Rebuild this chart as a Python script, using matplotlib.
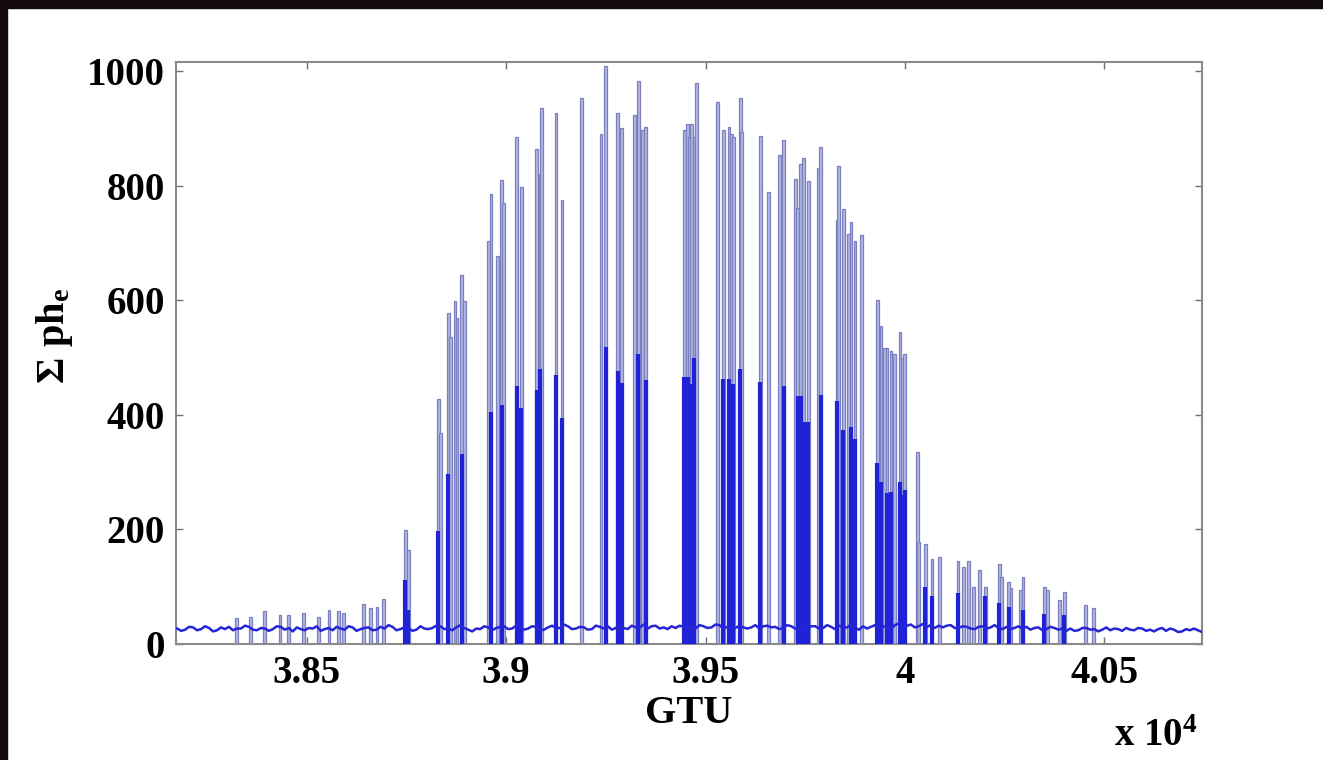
import numpy as np
import matplotlib
matplotlib.use("Agg")
import matplotlib.pyplot as plt
from matplotlib.patches import Rectangle

plt.rcParams['font.family'] = ['Liberation Serif', 'DejaVu Serif']
plt.rcParams['font.weight'] = 'bold'
plt.rcParams['mathtext.fontset'] = 'custom'
plt.rcParams['mathtext.rm'] = 'Liberation Serif:bold'
plt.rcParams['mathtext.it'] = 'Liberation Serif:bold'
plt.rcParams['mathtext.bf'] = 'Liberation Serif:bold'

# spikes: position (GTU), tall peak, dense core
spike_gtu = [38323, 38358, 38395, 38433, 38454, 38492, 38529, 38556, 38579, 38592,
             38642, 38659, 38676, 38692, 38747, 38755,
             38830, 38836, 38855, 38860, 38872, 38877, 38889, 38895,
             38955, 38962, 38978, 38989, 38994, 39027, 39038,
             39077, 39085, 39089, 39125, 39140, 39190, 39238, 39250,
             39280, 39290, 39321, 39331, 39342, 39350,
             39447, 39455, 39460, 39464, 39471, 39478, 39531, 39545,
             39559, 39566, 39570, 39587, 39591, 39637, 39658, 39686, 39696,
             39725, 39731, 39739, 39746, 39758, 39783, 39789,
             39830, 39834, 39846, 39858, 39865, 39875, 39892,
             39931, 39940, 39949, 39955, 39965, 39973, 39988, 39995, 40000,
             40032, 40034, 40051, 40068, 40087, 40133, 40147, 40160, 40173,
             40187, 40202, 40237, 40242, 40260, 40266, 40289, 40296,
             40350, 40358, 40388, 40400, 40452, 40473]
spike_top = [45, 48, 57, 51, 51, 54, 48, 60, 57, 54,
             70, 62, 65, 78, 199, 164,
             427, 368, 577, 535, 598, 568, 644, 598,
             703, 785, 677, 809, 769, 884, 798,
             864, 821, 936, 926, 775, 953, 890, 1008,
             926, 900, 923, 982, 897, 903,
             897, 907, 884, 907, 884, 979, 946, 897,
             903, 890, 884, 953, 893, 887, 788, 854, 880,
             811, 760, 838, 848, 808, 831, 867,
             739, 834, 759, 716, 736, 703, 713,
             601, 555, 516, 516, 512, 506, 545, 499, 506,
             335, 178, 175, 149, 152, 144, 135, 144, 100,
             129, 100, 140, 117, 109, 97, 94, 117,
             100, 94, 77, 91, 68, 62]
spike_core = [0, 0, 0, 0, 0, 0, 0, 0, 0, 0,
              0, 0, 0, 0, 112, 60,
              197, 0, 296, 0, 0, 0, 332, 0,
              0, 404, 0, 417, 0, 450, 411,
              443, 480, 0, 470, 394, 0, 0, 519,
              476, 456, 0, 506, 0, 460,
              466, 466, 0, 453, 499, 0, 0, 463,
              463, 0, 453, 480, 0, 457, 0, 0, 450,
              0, 433, 433, 388, 388, 0, 434,
              424, 0, 374, 0, 378, 358, 0,
              315, 282, 0, 263, 266, 0, 282, 260, 269,
              0, 0, 100, 83, 0, 89, 0, 0, 0,
              0, 83, 71, 0, 65, 0, 0, 59,
              53, 0, 0, 50, 0, 0]

# background count, sampled every 10 GTU from 38175
base_start = 38175
base_vals = [27, 23, 25, 30, 29, 24, 26, 31, 28, 22, 24, 29, 26, 30, 24, 27,
             27, 32, 30, 25, 24, 28, 27, 23, 26, 31, 30, 25, 28, 22, 29, 26,
             24, 28, 27, 31, 23, 26, 28, 24, 30, 27, 25, 31, 29, 23, 26, 28,
             29, 24, 25, 30, 27, 33, 30, 24, 26, 29, 28, 23, 25, 31, 27, 26,
             28, 32, 31, 26, 27, 24, 29, 33, 28, 25, 22, 27, 26, 31, 29, 24,
             28, 30, 31, 26, 27, 32, 29, 25, 27, 31, 30, 24, 25, 29, 32, 28,
             28, 34, 31, 26, 27, 30, 29, 25, 26, 32, 30, 27, 31, 25, 28, 33,
             28, 26, 32, 29, 29, 34, 27, 31, 32, 27, 29, 26, 31, 28, 32, 30,
             30, 26, 27, 33, 31, 28, 29, 34, 33, 27, 30, 26, 28, 32, 29, 27,
             29, 33, 27, 31, 32, 29, 30, 26, 28, 33, 31, 27, 27, 32, 29, 31,
             31, 27, 28, 33, 30, 26, 32, 29, 29, 34, 28, 25, 31, 27, 30, 33,
             27, 31, 29, 26, 33, 36, 30, 32, 34, 29, 31, 35, 30, 33, 28, 32,
             29, 32, 33, 28, 28, 31, 30, 27, 26, 30, 31, 27, 29, 33, 28, 26,
             30, 26, 28, 31, 27, 30, 25, 28, 29, 24, 26, 30, 28, 25, 27, 23,
             27, 23, 24, 28, 28, 25, 26, 22, 25, 29, 24, 27, 26, 23, 28, 25,
             24, 28, 27, 23, 25, 22, 26, 28, 23, 27, 25, 21, 22, 26, 24, 27,
             24, 21]
base_gtu = base_start + 10 * np.arange(len(base_vals))

xticks = [38500, 39000, 39500, 40000, 40500]
xticklabels = ['3.85', '3.9', '3.95', '4', '4.05']
yticks = [0, 200, 400, 600, 800, 1000]

fig = plt.figure(figsize=(13.23, 7.6), dpi=100)
fig.patch.set_facecolor('white')
# dark frame strips at top and left edge
fig.patches.append(Rectangle((0, 0.99), 1, 0.01, transform=fig.transFigure,
                             color='#120a0e', zorder=0))
fig.patches.append(Rectangle((0, 0), 0.005, 1, transform=fig.transFigure,
                             color='#120a0e', zorder=0))

ax = fig.add_axes([0.133, 0.1526, 0.7755, 0.7654])
ax.bar(spike_gtu, spike_top, width=7, color='#b4b7e0', edgecolor='#7b80c0',
       linewidth=0.9, zorder=2)
ax.vlines(spike_gtu, 0, spike_core, color='#1f22d6', linewidth=3.0, zorder=3)
ax.plot(base_gtu, base_vals, color='#2626d8', linewidth=1.8, zorder=4)

ax.set_xlim(38172, 40745)
ax.set_ylim(0, 1015)
ax.set_xticks(xticks)
ax.set_xticklabels(xticklabels)
ax.set_yticks(yticks)
ax.tick_params(direction='in', length=5, width=1, color='#707070',
               labelsize=28, top=True, right=True, pad=8)
for s in ax.spines.values():
    s.set_color('#8a8a8a')
    s.set_linewidth(1.5)

ax.set_xlabel('GTU', fontsize=29, fontweight='bold', labelpad=2)
ax.set_ylabel(r'$\Sigma\ ph_e$', fontsize=29, labelpad=12)
ax.yaxis.set_label_coords(-0.098, 0.53)
fig.text(0.842, 0.018, r'x 10$^4$', fontsize=28, fontweight='bold')

fig.savefig('out.png', dpi=100, facecolor=fig.get_facecolor())
